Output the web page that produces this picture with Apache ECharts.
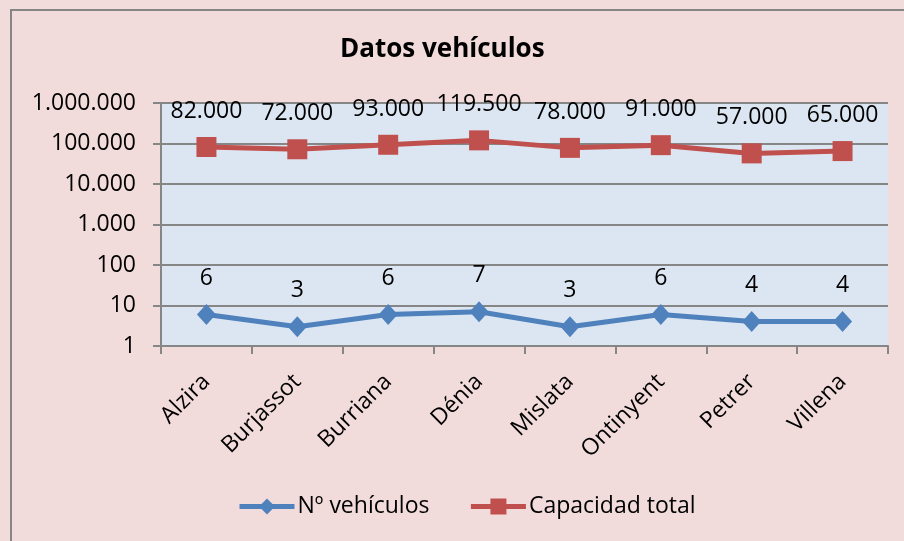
<!DOCTYPE html>
<html>
<head>
<meta charset="utf-8">
<script src="https://cdn.jsdelivr.net/npm/echarts@6/dist/echarts.min.js"></script>
<style>
html,body{margin:0;padding:0;background:#F2DCDB;}
#c{width:904px;height:541px;}
</style>
</head>
<body>
<div id="c"></div>
<script>
var categories = ['Alzira','Burjassot','Burriana','Dénia','Mislata','Ontinyent','Petrer','Villena'];
var vehiculos = [6,3,6,7,3,6,4,4];
var capacidad = [82000,72000,93000,119500,78000,91000,57000,65000];
var seriesNames = ['Nº vehículos','Capacidad total'];
var titleText = 'Datos vehículos';

function fmt(v){ return String(v).replace(/\B(?=(\d{3})+(?!\d))/g,'.'); }

var FONT = 'Open Sans';
var FS = 23;
var chart = echarts.init(document.getElementById('c'));
chart.setOption({
  backgroundColor: '#F2DCDB',
  animation: false,
  textStyle: {fontFamily: FONT},
  title: {
    text: titleText, left: 340, top: 37, padding: 0,
    textStyle: {fontFamily: FONT, fontWeight: 'bold', fontSize: 26, color: '#000'}
  },
  graphic: [{
    type: 'rect', shape: {x: 11, y: 10, width: 910, height: 560},
    style: {fill: 'none', stroke: '#868686', lineWidth: 2}, silent: true, z: 100
  }],
  legend: {
    left: 232, top: 490, itemGap: 39, itemWidth: 55, itemHeight: 20,
    lineStyle: {width: 5},
    textStyle: {fontFamily: FONT, fontSize: FS, color: '#000', padding: [0,0,0,-2]},
    data: seriesNames
  },
  grid: {
    left: 161, top: 103, right: 16, bottom: 195,
    show: true, backgroundColor: '#DCE6F2', borderWidth: 0
  },
  xAxis: {
    type: 'category', data: categories, boundaryGap: true,
    axisLine: {lineStyle: {color: '#868686', width: 2}},
    axisTick: {show: true, length: 8, lineStyle: {color: '#868686', width: 2}},
    axisLabel: {rotate: 45, margin: 32, fontSize: FS, color: '#000', fontFamily: FONT, interval: 0}
  },
  yAxis: {
    type: 'log', logBase: 10, min: 1, max: 1000000, splitNumber: 6,
    axisLine: {show: true, lineStyle: {color: '#868686', width: 2}},
    axisTick: {show: true, length: 8, lineStyle: {color: '#868686', width: 2}},
    splitLine: {show: true, lineStyle: {color: '#868686', width: 2}},
    axisLabel: {margin: 25, fontSize: FS, color: '#000', fontFamily: FONT, formatter: function(v){return fmt(v);}}
  },
  series: [{
    name: seriesNames[0], type: 'line', data: vehiculos,
    symbol: 'diamond', symbolSize: [19, 21],
    itemStyle: {color: '#4F81BD'}, lineStyle: {color: '#4F81BD', width: 5},
    label: {show: true, position: 'top', distance: 14, fontSize: FS, color: '#000', fontFamily: FONT,
      formatter: function(p){return fmt(p.value);}}
  },{
    name: seriesNames[1], type: 'line', data: capacidad,
    symbol: 'rect', symbolSize: 20,
    itemStyle: {color: '#C0504D'}, lineStyle: {color: '#C0504D', width: 5},
    label: {show: true, position: 'top', distance: 14, fontSize: FS, color: '#000', fontFamily: FONT,
      formatter: function(p){return fmt(p.value);}}
  }]
});
</script>
</body>
</html>
